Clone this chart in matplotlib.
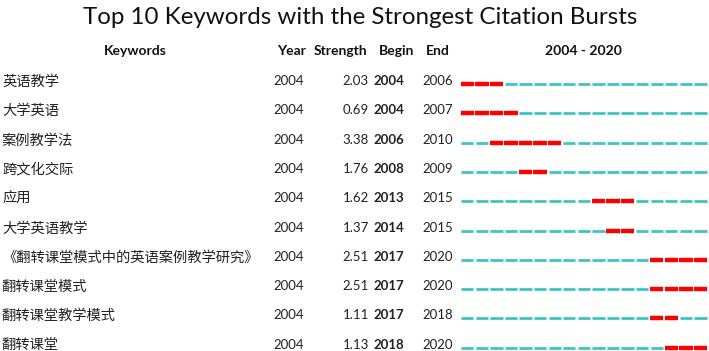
import matplotlib
matplotlib.use("Agg")
import matplotlib.pyplot as plt

plt.rcParams['font.family'] = ['Lato', 'Noto Sans CJK SC', 'DejaVu Sans']

keywords = ['英语教学', '大学英语', '案例教学法', '跨文化交际', '应用', '大学英语教学',
            '《翻转课堂模式中的英语案例教学研究》', '翻转课堂模式', '翻转课堂教学模式', '翻转课堂']
years = [2004] * 10
strengths = [2.03, 0.69, 3.38, 1.76, 1.62, 1.37, 2.51, 2.51, 1.11, 1.13]
begins = [2004, 2004, 2006, 2008, 2013, 2014, 2017, 2017, 2017, 2018]
ends = [2006, 2007, 2010, 2009, 2015, 2015, 2020, 2020, 2018, 2020]
first_year, last_year = 2004, 2020

W, H = 709, 351
fig = plt.figure(figsize=(W / 100, H / 100), dpi=100)

# row index <-> pixel: row 0 centre at 84 px, spacing 29.3 px
row0, step = 84, 29.3
ytop = -row0 / step
ybot = (H - row0) / step

ax = fig.add_axes([0, 0, 1, 1])
ax.set_xlim(0, W)
ax.set_ylim(ybot, ytop)
ax.axis('off')

def row_of(px):
    return (px - row0) / step

ax.text(360, row_of(17), 'Top 10 Keywords with the Strongest Citation Bursts',
        ha='center', va='center', fontsize=17.4, color='#111111')

hy = row_of(51)
hdr = dict(ha='center', va='center', fontsize=10, fontweight='bold', color='#111111')
ax.text(135, hy, 'Keywords', **hdr)
ax.text(291, hy, 'Year', **hdr)
ax.text(340, hy, 'Strength', **hdr)
ax.text(397, hy, 'Begin', **hdr)
ax.text(438, hy, 'End', **hdr)
ax.text(583, hy, f'{first_year} - {last_year}', **hdr)

for i, kw in enumerate(keywords):
    y = i - 0.1
    ax.text(2, y, kw, ha='left', va='center', fontsize=10.3, color='#222222')
    ax.text(273, y, str(years[i]), ha='left', va='center', fontsize=9.5, color='#222222')
    ax.text(369, y, f'{strengths[i]:.2f}', ha='right', va='center', fontsize=9.5, color='#222222')
    ax.text(373, y, str(begins[i]), ha='left', va='center', fontsize=9.5,
            fontweight='bold', color='#222222')
    ax.text(422, y, str(ends[i]), ha='left', va='center', fontsize=9.5, color='#222222')

ax2 = fig.add_axes([460 / W, 0, 248 / W, 1])
ax2.set_xlim(first_year, last_year + 1.02)
ax2.set_ylim(ybot, ytop)
ax2.axis('off')

for i in range(len(keywords)):
    for yr in range(first_year, last_year + 1):
        if begins[i] <= yr <= ends[i]:
            ax2.hlines(i, yr + 0.04, yr + 0.96, color='#ff0000', linewidth=3.2)
        else:
            ax2.hlines(i, yr + 0.08, yr + 0.92, color='#3fc4c4', linewidth=2.0)

fig.savefig('out.png', dpi=100)
